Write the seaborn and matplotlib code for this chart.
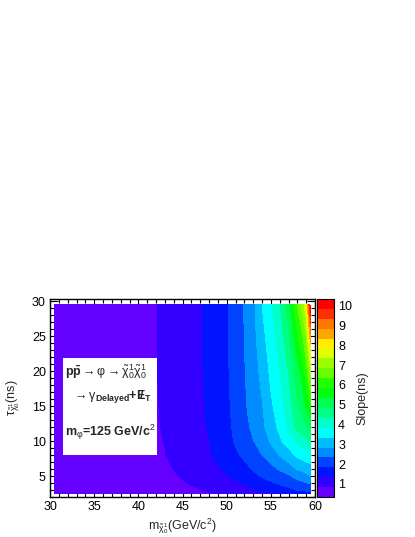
import colorsys
import numpy as np
import matplotlib
matplotlib.use("Agg")
import matplotlib.pyplot as plt
import seaborn as sns
from matplotlib.patches import Rectangle
from matplotlib.ticker import MultipleLocator

# neutralino mass (GeV/c^2) and lifetime (ns) grid
mass = [30.5, 35, 40, 42, 43, 44, 45, 46, 47, 48, 49, 50, 51, 52, 53, 54, 55, 56, 57, 58, 58.5, 59, 59.5]
tau = [2.5, 3, 4, 5, 6, 8, 10, 12, 15, 20, 25, 29.5]

# slope (ns), one row per lifetime value
slope = [
    [0.34, 0.38, 0.45, 0.48, 0.51, 0.55, 0.60, 0.65, 0.72, 0.80, 0.87, 0.95, 1.00, 1.08, 1.15, 1.20, 1.28, 1.34, 1.50, 1.60, 1.64, 1.68, 1.72],
    [0.38, 0.42, 0.50, 0.54, 0.58, 0.62, 0.68, 0.75, 0.83, 0.92, 0.98, 1.05, 1.12, 1.20, 1.30, 1.40, 1.48, 1.60, 1.72, 1.85, 1.88, 1.92, 1.95],
    [0.43, 0.48, 0.57, 0.62, 0.67, 0.72, 0.80, 0.88, 0.98, 1.08, 1.14, 1.22, 1.28, 1.37, 1.52, 1.65, 1.78, 1.92, 2.05, 2.18, 2.25, 2.32, 2.40],
    [0.46, 0.52, 0.62, 0.68, 0.73, 0.79, 0.88, 0.97, 1.08, 1.18, 1.24, 1.31, 1.42, 1.55, 1.72, 1.88, 2.05, 2.18, 2.28, 2.50, 2.58, 2.70, 2.82],
    [0.48, 0.54, 0.66, 0.72, 0.78, 0.845, 0.93, 1.03, 1.15, 1.25, 1.30, 1.42, 1.56, 1.70, 1.88, 2.08, 2.20, 2.38, 2.62, 2.87, 2.94, 3.05, 3.12],
    [0.50, 0.57, 0.70, 0.77, 0.83, 0.90, 0.99, 1.10, 1.22, 1.31, 1.41, 1.56, 1.76, 1.93, 2.12, 2.34, 2.56, 2.87, 3.10, 3.45, 3.52, 3.62, 3.70],
    [0.51, 0.58, 0.72, 0.80, 0.85, 0.93, 1.02, 1.14, 1.26, 1.33, 1.48, 1.64, 1.90, 2.08, 2.32, 2.55, 2.90, 3.25, 3.60, 3.95, 4.08, 4.22, 4.35],
    [0.52, 0.59, 0.73, 0.81, 0.87, 0.95, 1.04, 1.16, 1.28, 1.36, 1.53, 1.69, 1.96, 2.18, 2.45, 2.70, 3.12, 3.45, 3.92, 4.50, 4.60, 4.78, 5.00],
    [0.52, 0.60, 0.74, 0.82, 0.88, 0.96, 1.05, 1.17, 1.29, 1.39, 1.57, 1.73, 2.00, 2.26, 2.55, 2.80, 3.25, 3.60, 4.10, 4.75, 5.00, 5.40, 5.90],
    [0.53, 0.60, 0.74, 0.83, 0.89, 0.97, 1.06, 1.18, 1.30, 1.42, 1.60, 1.77, 2.03, 2.31, 2.62, 2.97, 3.45, 3.81, 4.35, 5.15, 5.50, 6.10, 7.10],
    [0.53, 0.61, 0.75, 0.83, 0.89, 0.97, 1.07, 1.18, 1.31, 1.43, 1.61, 1.79, 2.05, 2.34, 2.67, 3.17, 3.62, 4.05, 4.72, 5.76, 6.20, 6.85, 8.70],
    [0.53, 0.61, 0.75, 0.83, 0.89, 0.97, 1.07, 1.18, 1.31, 1.44, 1.62, 1.80, 2.06, 2.37, 2.70, 3.34, 3.76, 4.28, 5.10, 6.34, 6.95, 7.70, 10.34],
]

sns.set_theme(style="ticks")
plt.rcParams['font.family'] = ['Liberation Sans', 'DejaVu Sans']
plt.rcParams['mathtext.fontset'] = 'custom'
plt.rcParams['mathtext.rm'] = 'Liberation Sans'
plt.rcParams['mathtext.it'] = 'Liberation Sans:italic'
plt.rcParams['mathtext.bf'] = 'Liberation Sans:bold'

# ROOT "pretty" palette (50 hues violet -> red), 20 contour bands
pal = [colorsys.hls_to_rgb((280 - (k + 1) * 5.6) / 360, 0.5, 1.0) for k in range(50)]
band_colors = [pal[int((i + 0.99) * 50 / 20)] for i in range(20)]

z = np.array(slope)
levels = np.linspace(z.min(), z.max(), 21)

fig = plt.figure(figsize=(4.15, 5.37), dpi=100)
ax = fig.add_axes([50 / 415, 1 - 497 / 537, 265 / 415, 198 / 537])
cax = fig.add_axes([317 / 415, 1 - 497 / 537, 17 / 415, 198 / 537])

cs = ax.contourf(mass, tau, z, levels=levels, colors=band_colors)
ax.set_xlim(30, 60)
ax.set_ylim(2, 30.3)

ax.xaxis.set_major_locator(MultipleLocator(5))
ax.xaxis.set_minor_locator(MultipleLocator(1))
ax.yaxis.set_major_locator(MultipleLocator(5))
ax.yaxis.set_minor_locator(MultipleLocator(1))
ax.tick_params(which='both', direction='in', top=True, right=True, colors='black',
               labelsize=9, width=0.8, pad=3)
ax.tick_params(which='major', length=6)
ax.tick_params(which='minor', length=3)
for s in ax.spines.values():
    s.set_color('black')
    s.set_linewidth(1)

chi = r'\tilde{\mathrm{\chi}}^{1}_{0}'
ax.set_xlabel(r'm$_{' + chi + r'}$(GeV/c$^{2}$)', fontsize=9, labelpad=2)
ax.set_ylabel(r'$\mathrm{\tau}_{' + chi + r'}$(ns)', fontsize=9, labelpad=7)

# legend box with process text
ax.add_patch(Rectangle((0.049, 0.212), 0.355, 0.49, transform=ax.transAxes,
                       facecolor='white', edgecolor='none', zorder=5))
line1 = (r'$\mathbf{p\bar{p}}\rightarrow\mathrm{\varphi}\rightarrow' + chi + chi + '$')
line2 = (r'$\rightarrow\mathrm{\gamma}_{\mathbf{Delayed}}\mathbf{+}'
         r'{\mathbf{E}\!\!\!\mathbf{/}\,}_{\mathbf{T}}$')
line3 = r'$\mathbf{m_{\mathrm{\varphi}}}$=125 GeV/c$^{2}$'
ax.text(0.057, 0.631, line1, transform=ax.transAxes, fontsize=9, va='center', zorder=6)
ax.text(0.083, 0.51, line2, transform=ax.transAxes, fontsize=9, va='center', zorder=6)
ax.text(0.057, 0.328, line3, fontweight='bold', transform=ax.transAxes,
        fontsize=9, va='center', zorder=6)

cb = fig.colorbar(cs, cax=cax, ticks=range(1, 11))
cb.outline.set_edgecolor('black')
cb.outline.set_linewidth(0.8)
cax.tick_params(direction='in', length=6, width=0.8, labelsize=9, pad=3, colors='black')
cax.set_yticklabels([str(i) for i in range(1, 11)])
cb.set_label('Slope(ns)', fontsize=9, labelpad=3)

fig.savefig('out.png', dpi=100)
